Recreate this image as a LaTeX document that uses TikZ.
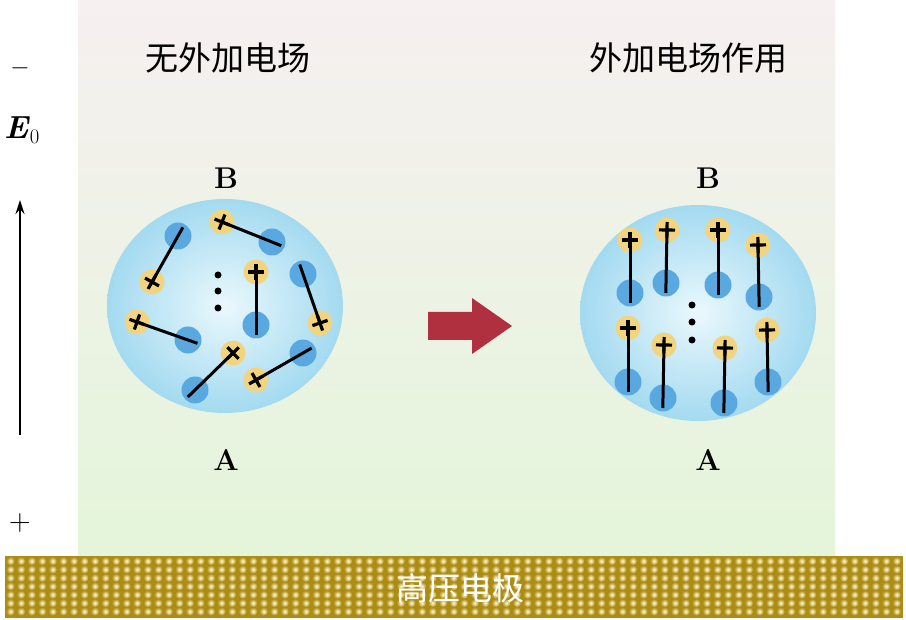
\documentclass[tikz,border=0pt]{standalone}
\usepackage{fontspec}
\newfontfamily\cjk{Noto Sans CJK SC}
\usetikzlibrary{calc,arrows.meta}
\definecolor{posc}{HTML}{F2D47E}
\definecolor{negc}{HTML}{5AA8E0}
\definecolor{sph}{HTML}{A3DAF0}
\definecolor{sphin}{HTML}{EAF8FD}
\definecolor{elec}{HTML}{AD8C14}
\definecolor{arr}{HTML}{B0303F}
\tikzset{
 posn/.style={circle,fill=posc,minimum size=25pt,inner sep=0pt},
 negn/.style={circle,fill=negc,minimum size=27pt,inner sep=0pt},
 lbl/.style={font=\bfseries\fontsize{30}{34}\selectfont},
 ttl/.style={font=\cjk\fontsize{33}{38}\selectfont},
 dotn/.style={circle,fill=black,minimum size=7pt,inner sep=0pt},
}
\newcommand{\dip}[5]{%
 \node[negn] (n#1) at (#4,#5) {};
 \node[posn] (p#1) at (#2,#3) {};
 \draw[line width=3pt] (p#1.center) -- ($(n#1)!-10pt!(p#1)$);
 \draw[line width=3.2pt] let \p1=($(n#1)-(p#1)$), \n1={atan2(\y1,\x1)} in
   ($(p#1)+(\n1:8pt)$) -- ($(p#1)+(\n1+180:8pt)$)
   ($(p#1)+(\n1+90:8pt)$) -- ($(p#1)+(\n1-90:8pt)$);
}
\begin{document}
\begin{tikzpicture}[x=1pt,y=-1pt]
\useasboundingbox (0,0) rectangle (906,620);
\fill[white] (0,0) rectangle (906,620);
\shade[top color={rgb,255:red,246;green,240;blue,240},bottom color={rgb,255:red,228;green,245;blue,218}] (78,0) rectangle (835,556);
% electrode
\fill[elec] (5,556) rectangle (903,618);
\foreach \r in {0,...,6}{
 \foreach \c in {0,...,84}{
  \shade[inner color={rgb,255:red,255;green,252;blue,220},outer color=elec] (10.5+\c*10.55,561+\r*8.4) circle (4.2);
 }}
\node[font=\cjk\fontsize{32}{36}\selectfont,text=white] (el) at (460,588) {高压电极};
% field
\node[font=\fontsize{30}{34}\selectfont] (minus) at (20,68) {$-$};
\node[font=\fontsize{30}{34}\selectfont] (plus) at (20,523) {+};
\node[font=\fontsize{32}{36}\selectfont] (E) at (22,130) {\textbf{\textit{E}}$_0$};
\coordinate (ab) at (20,435);
\coordinate (at) at (20,200);
\draw[line width=1.6pt,-{Stealth[length=14pt,width=9pt]}] (ab) -- (at);
% titles
\node[ttl] (t1) at (228,58) {无外加电场};
\node[ttl] (t2) at (688,58) {外加电场作用};
\node[lbl] (B1) at (226,178) {B};
\node[lbl] (A1) at (226,460) {A};
\node[lbl] (B2) at (708,178) {B};
\node[lbl] (A2) at (708,460) {A};
% spheres
\shade[inner color=sphin,outer color=sph] (225,306) ellipse (118 and 107);
\shade[inner color=sphin,outer color=sph] (698,313) ellipse (118 and 108);
% left dipoles
\dip{a}{152}{282}{178}{236}
\dip{b}{222}{222}{272}{242}
\dip{c}{256}{272}{256}{325}
\dip{d}{320}{323}{303}{274}
\dip{e}{137}{322}{188}{340}
\dip{f}{233}{353}{195}{390}
\dip{g}{256}{380}{303}{353}
\node[dotn] (d1) at (218,275) {};
\node[dotn] (d2) at (218,291) {};
\node[dotn] (d3) at (218,308) {};
% right dipoles
\dip{h}{630}{240}{630}{293}
\dip{i}{667}{230}{666}{283}
\dip{j}{718}{230}{718}{285}
\dip{k}{758}{245}{759}{297}
\dip{l}{628}{328}{628}{382}
\dip{m}{664}{345}{663}{398}
\dip{o}{725}{348}{724}{403}
\dip{q}{767}{330}{768}{382}
\node[dotn] (d4) at (692,305) {};
\node[dotn] (d5) at (692,322) {};
\node[dotn] (d6) at (692,340) {};
% block arrow
\fill[arr] (428,312) -- (472,312) -- (472,298) -- (512,326) -- (472,354) -- (472,340) -- (428,340) -- cycle;
\end{tikzpicture}
\end{document}
